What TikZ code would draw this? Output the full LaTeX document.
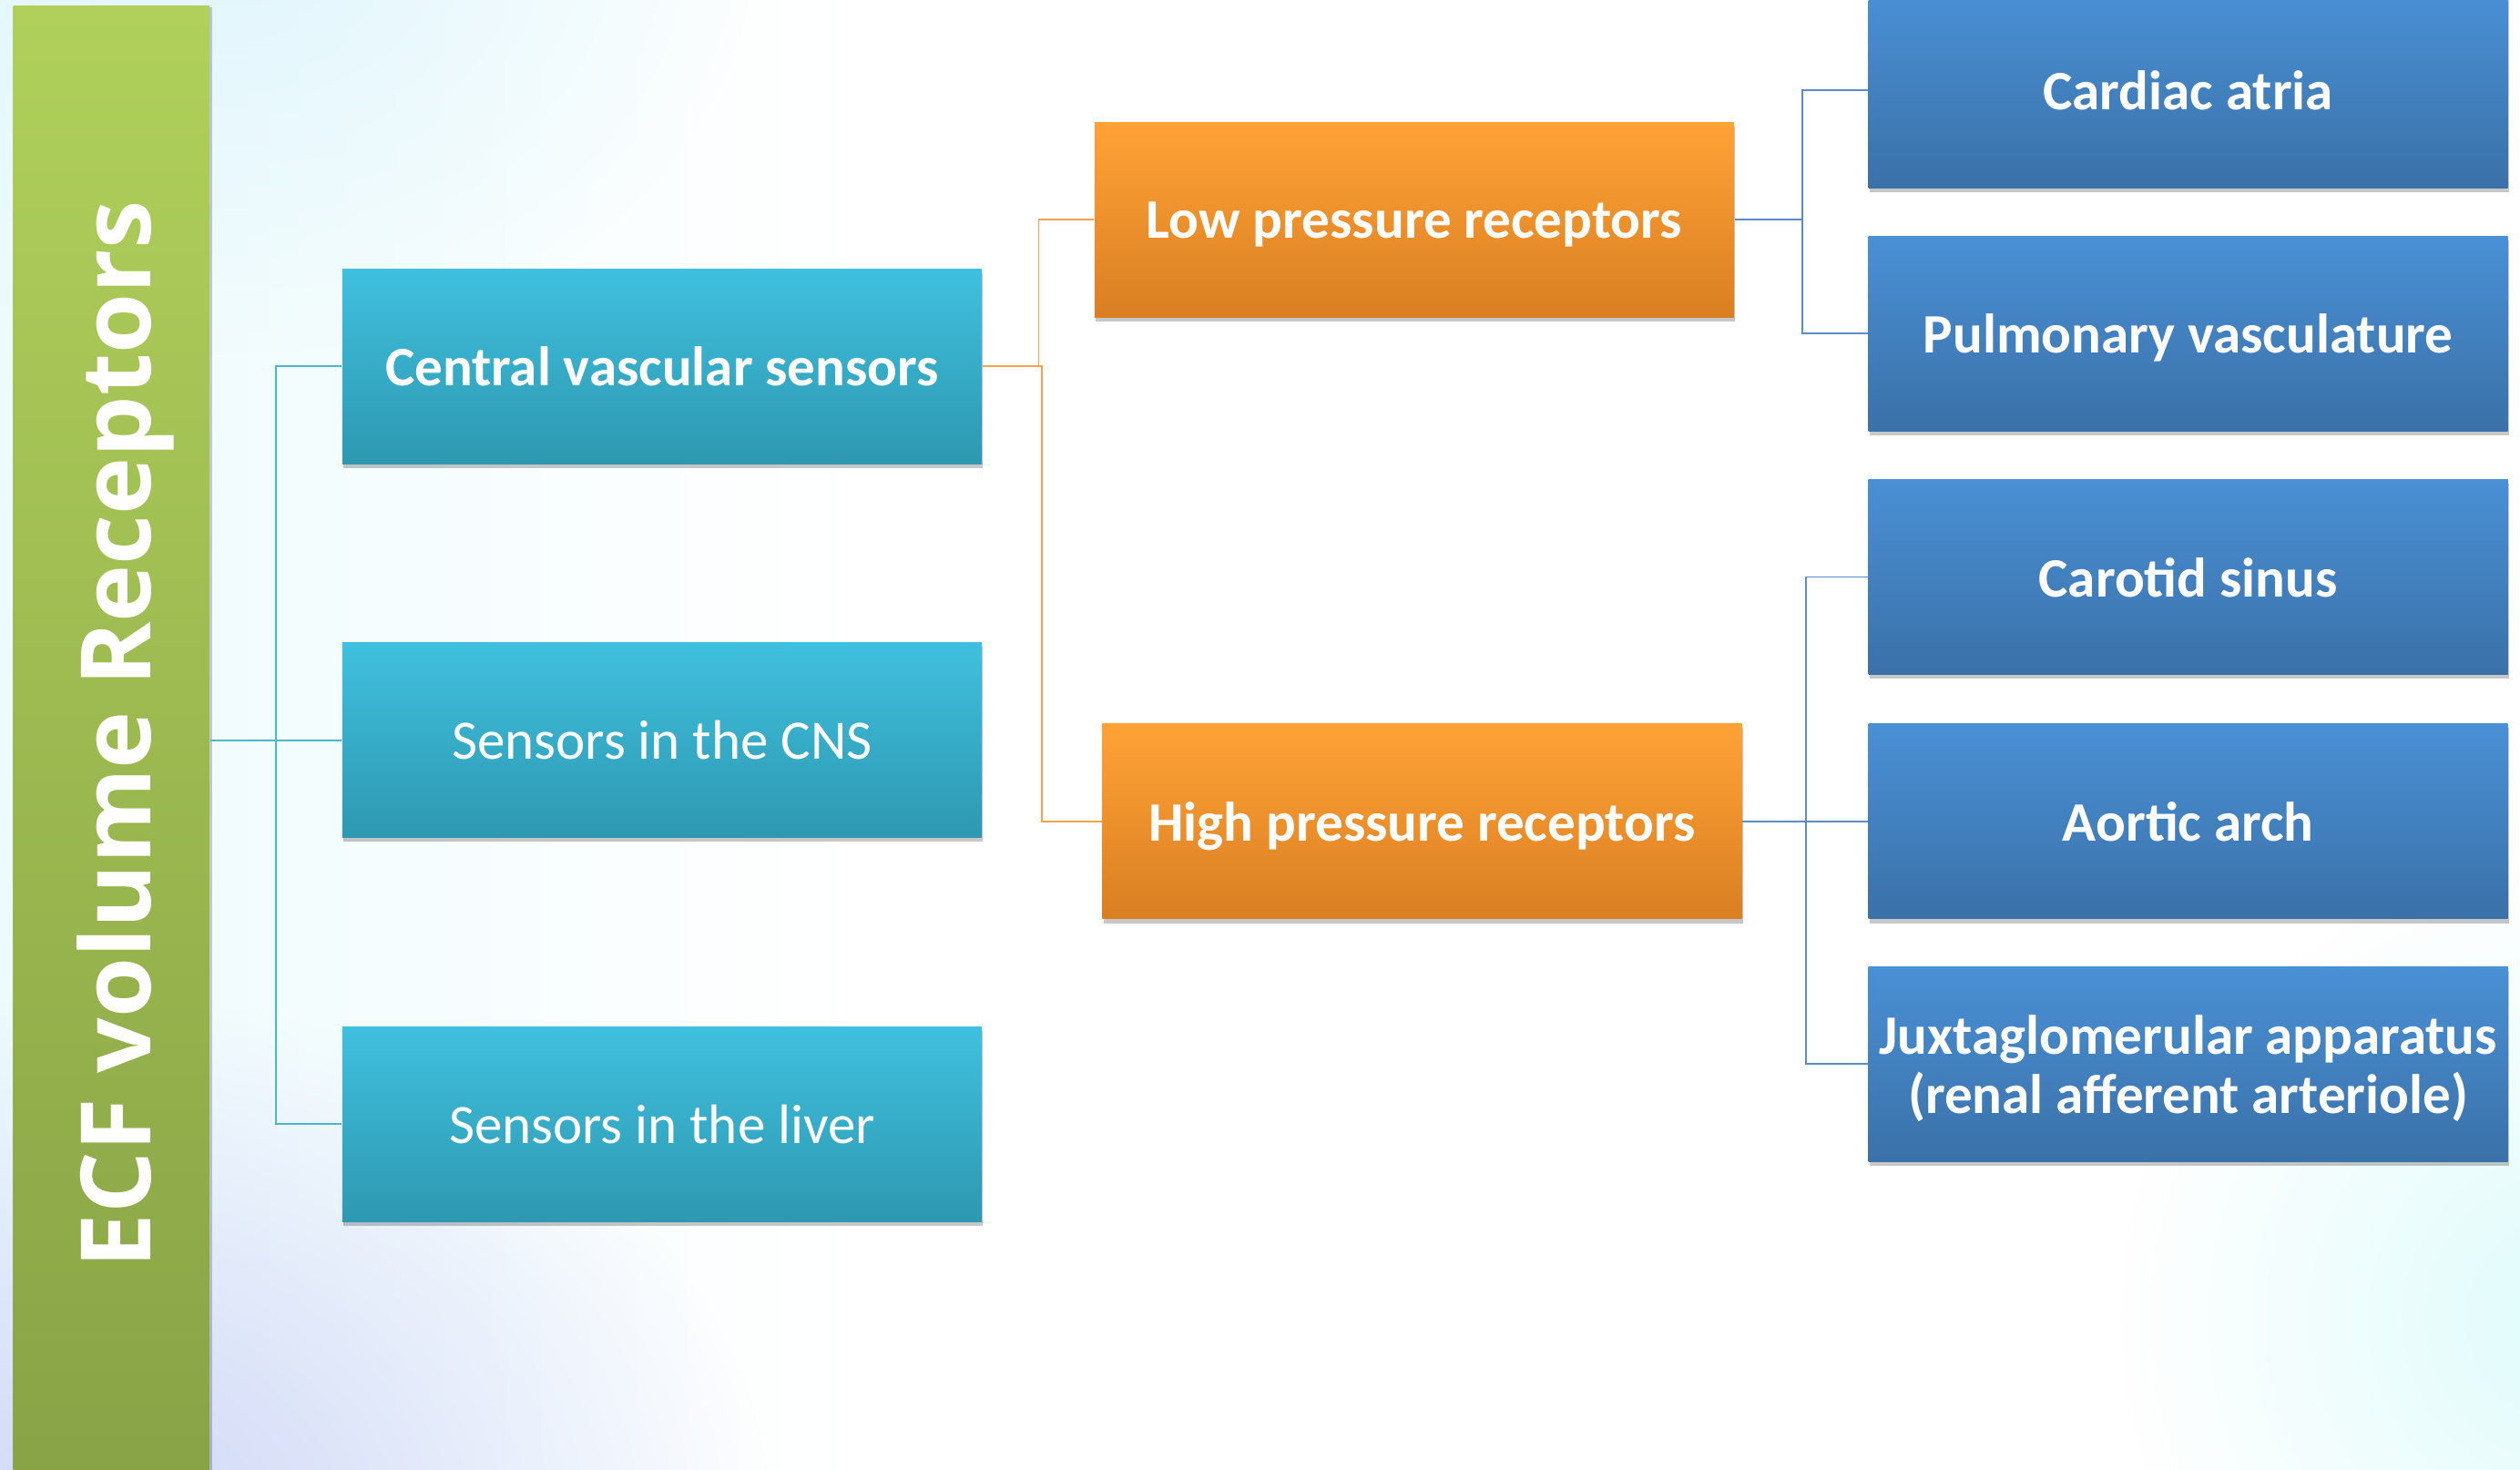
\documentclass[tikz,border=0pt]{standalone}
\usepackage{fontspec}
\setmainfont{Carlito}
\newfontfamily\titlefont{Open Sans}
\usetikzlibrary{shadows,fadings}
\tikzfading[name=softfade, inner color=transparent!0, outer color=transparent!100]
\definecolor{bgA}{HTML}{D6F2FC}
\definecolor{bgB}{HTML}{E2F9FD}
\definecolor{bgC}{HTML}{F6FFFF}
\definecolor{bgD}{HTML}{D8FBFB}
\definecolor{lav}{HTML}{CDD3F6}
\definecolor{grtop}{HTML}{B0D05B}
\definecolor{grbot}{HTML}{88A346}
\definecolor{tltop}{HTML}{3FC0DF}
\definecolor{tlbot}{HTML}{2E98B0}
\definecolor{ortop}{HTML}{FFA236}
\definecolor{orbot}{HTML}{D97F22}
\definecolor{bltop}{HTML}{4A90D5}
\definecolor{blbot}{HTML}{3A71A8}
\definecolor{tlline}{HTML}{4CB6CF}
\definecolor{orline}{HTML}{F5A24C}
\definecolor{blline}{HTML}{5A8CC8}
\pgfdeclarehorizontalshading{bgshade}{100bp}{color(0bp)=(bgA); color(14bp)=(bgB); color(42bp)=(white); color(80bp)=(white); color(93bp)=(bgC); color(100bp)=(bgD)}
\begin{document}
\begin{tikzpicture}[x=0.02cm,y=-0.02cm,
  boxbase/.style={rectangle, minimum width=7.96cm, minimum height=2.43cm, inner sep=0pt,
    text=white, align=center, text depth=0pt, font=\bfseries\fontsize{19.7}{21}\selectfont,
    drop shadow={shadow xshift=0.4pt, shadow yshift=-1.5pt, opacity=0.22, fill=black}},
  lvlone/.style={boxbase, top color=tltop, bottom color=tlbot},
  lvltwo/.style={boxbase, top color=ortop, bottom color=orbot},
  lvlthree/.style={boxbase, top color=bltop, bottom color=blbot},
  tconn/.style={draw=tlline, line width=0.6pt},
  oconn/.style={draw=orline, line width=0.6pt},
  bconn/.style={draw=blline, line width=0.6pt}]
\useasboundingbox (0,0) rectangle (1568,914.6);
\begin{scope}
\clip (0,0) rectangle (1568,914.6);
\shade[shading=bgshade] (0,0) rectangle (1568,914.6);
\fill[lav, path fading=softfade, opacity=0.9] (60,950) ellipse (420 and 330);
\fill[bgA, path fading=softfade, opacity=0.6] (150,-40) ellipse (320 and 260);
\fill[bgD, path fading=softfade, opacity=0.8] (1600,820) ellipse (280 and 280);
% title bar
\node[rectangle, anchor=north west, inner sep=0pt, minimum width=2.44cm, minimum height=18.4cm,
  top color=grtop, bottom color=grbot,
  drop shadow={shadow xshift=1pt, shadow yshift=-0.5pt, opacity=0.2, fill=black}] (bar) at (8,3.4) {};
\end{scope}
\node[rotate=90, anchor=base, text=white, inner sep=0pt,
  font=\titlefont\bfseries\fontsize{34.4}{40}\selectfont] (title) at (94,457) {ECF volume Receptors};
% level 1
\node[lvlone] (central) at (412,228) {Central vascular sensors};
\node[lvlone, font=\mdseries\fontsize{19.7}{21}\selectfont] (cns) at (412,460.5) {Sensors in the CNS};
\node[lvlone, font=\mdseries\fontsize{19.7}{21}\selectfont] (liver) at (412,699.5) {Sensors in the liver};
% level 2
\node[lvltwo] (low) at (880,136.8) {Low pressure receptors};
\node[lvltwo] (high) at (884.8,511) {High pressure receptors};
% level 3
\node[lvlthree] (cardiac) at (1361.5,56) {Cardiac atria};
\node[lvlthree] (pulm) at (1361.5,207.5) {Pulmonary vasculature};
\node[lvlthree] (carotid) at (1361.5,359) {Carotid sinus};
\node[lvlthree] (aortic) at (1361.5,511) {Aortic arch};
\node[lvlthree] (juxta) at (1361.5,662) {Juxtaglomerular apparatus\\(renal afferent arteriole)};
% connectors
\draw[tconn] (bar.east |- cns.west) -- (cns.west);
\draw[tconn] (central.west) -- ++(-41,0) |- (liver.west);
\draw[oconn] (central.east) -- ++(35,0) |- (low.west);
\draw[oconn] (central.east) -- ++(37,0) |- (high.west);
\draw[bconn] (low.east) -- ++(42,0) |- (cardiac.west);
\draw[bconn] (low.east) -- ++(42,0) |- (pulm.west);
\draw[bconn] (high.east) -- (aortic.west);
\draw[bconn] (high.east) -- ++(39.5,0) |- (carotid.west);
\draw[bconn] (high.east) -- ++(39.5,0) |- (juxta.west);
\end{tikzpicture}
\end{document}
